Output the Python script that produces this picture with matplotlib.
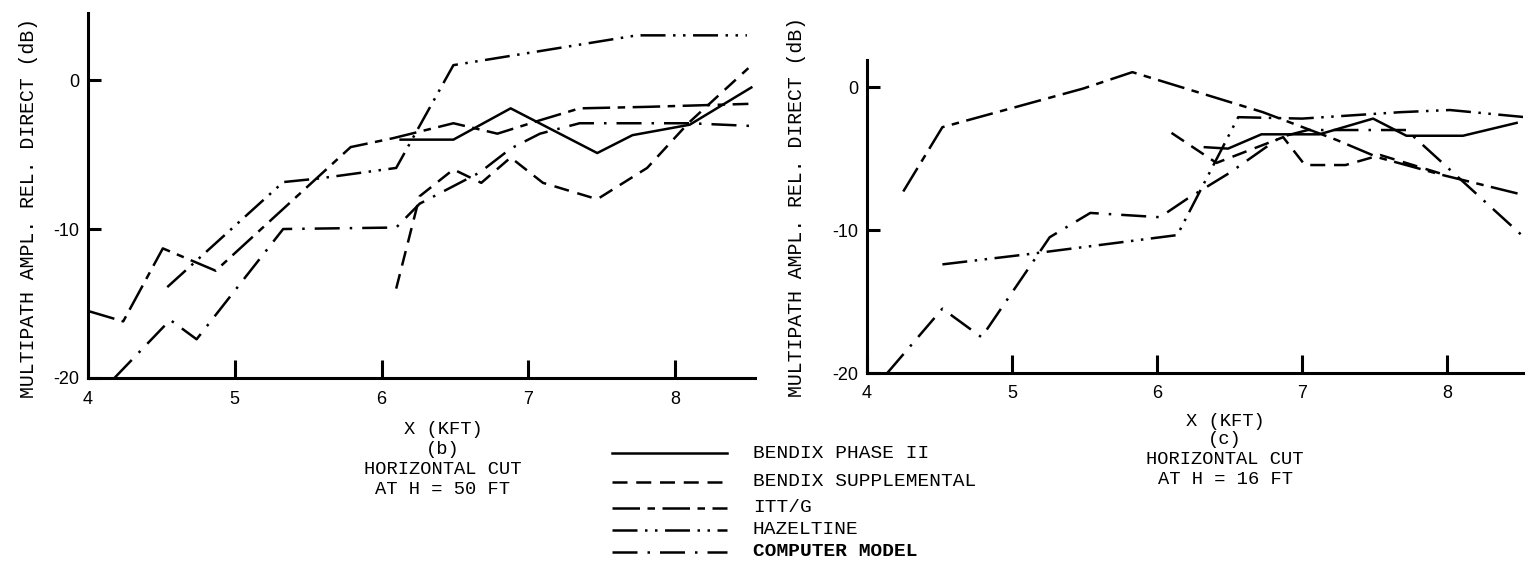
import matplotlib

matplotlib.use("Agg")
import matplotlib.pyplot as plt

W, H = 1537, 572

# ---- panel (b): horizontal cut at H = 50 ft ----
b_phase2_x = [6.13, 6.49, 6.88, 7.47, 7.71, 8.10, 8.52]
b_phase2_y = [-4.0, -4.0, -1.9, -4.9, -3.7, -3.0, -0.5]

b_supp_x = [6.10, 6.26, 6.49, 6.68, 6.88, 7.10, 7.47, 7.81, 8.09, 8.50]
b_supp_y = [-14.0, -7.8, -6.0, -6.9, -5.2, -6.9, -8.0, -5.9, -2.9, 0.8]

b_itt_x = [4.00, 4.24, 4.51, 4.87, 5.79, 6.08, 6.49, 6.79, 7.08, 7.35, 7.81, 8.50]
b_itt_y = [-15.5, -16.2, -11.3, -12.8, -4.5, -3.9, -2.9, -3.6, -2.7, -1.9, -1.8, -1.6]

b_haz_x = [4.54, 5.33, 5.58, 6.10, 6.49, 7.74, 8.49]
b_haz_y = [-13.9, -6.85, -6.6, -5.9, 1.0, 3.0, 3.0]

b_model_x = [4.18, 4.56, 4.74, 5.33, 6.10, 6.26, 6.67, 6.88, 7.08, 7.35, 8.10, 8.56]
b_model_y = [-20.0, -16.1, -17.4, -10.0, -9.9, -8.3, -6.2, -4.6, -3.6, -2.9, -2.9, -3.1]

# ---- panel (c): horizontal cut at H = 16 ft ----
c_phase2_x = [6.33, 6.49, 6.72, 7.12, 7.49, 7.72, 8.11, 8.48]
c_phase2_y = [-4.2, -4.3, -3.3, -3.3, -2.2, -3.4, -3.4, -2.5]

c_supp_x = [6.10, 6.41, 6.87, 7.02, 7.30, 7.54, 7.99]
c_supp_y = [-3.2, -5.3, -3.5, -5.45, -5.45, -4.75, -6.15]

c_itt_x = [4.25, 4.52, 5.49, 5.83, 6.73, 7.24, 7.52, 7.97, 8.55]
c_itt_y = [-7.3, -2.8, -0.1, 1.05, -1.75, -3.7, -4.9, -6.15, -7.6]

c_haz_x = [4.52, 5.10, 6.14, 6.56, 7.00, 7.68, 8.02, 8.54]
c_haz_y = [-12.4, -11.7, -10.35, -2.1, -2.2, -1.75, -1.6, -2.1]

c_model_x = [4.14, 4.52, 4.79, 5.26, 5.54, 6.02, 6.21, 6.50, 6.85, 7.04, 7.72, 8.52]
c_model_y = [-20.0, -15.5, -17.5, -10.5, -8.8, -9.1, -7.8, -6.0, -3.5, -3.0, -3.0, -10.4]

series_names = [
    "BENDIX PHASE II",
    "BENDIX SUPPLEMENTAL",
    "ITT/G",
    "HAZELTINE",
    "COMPUTER MODEL",
]
x_ticks = [4, 5, 6, 7, 8]
y_ticks = [-20, -10, 0]

LW = 1.8
STYLES = [
    dict(linestyle="-"),
    dict(dashes=(6.0, 3.5)),
    dict(dashes=(11.0, 3.0, 3.0, 3.0)),
    dict(dashes=(10.0, 3.0, 1.0, 3.0, 1.0, 3.0)),
    dict(dashes=(10.0, 4.0, 1.0, 4.0)),
]

MONO = ["Liberation Mono", "DejaVu Sans Mono"]
SANS = ["Liberation Sans", "DejaVu Sans"]


def fx(x):
    return x / W


def fy(y):
    return 1 - y / H


def style_axes(ax, xlim, ylim):
    ax.set_xlim(*xlim)
    ax.set_ylim(*ylim)
    for side in ("top", "right"):
        ax.spines[side].set_visible(False)
    for side in ("left", "bottom"):
        ax.spines[side].set_linewidth(2.2)
    ax.set_xticks(x_ticks)
    ax.set_yticks(y_ticks)
    ax.set_yticklabels([str(v) for v in y_ticks])
    ax.tick_params(axis="x", direction="in", length=13, width=2.2, pad=9)
    ax.tick_params(axis="y", direction="in", length=9, width=2.2, pad=6)
    for lab in ax.get_xticklabels() + ax.get_yticklabels():
        lab.set_fontfamily(SANS)
        lab.set_fontsize(13)


def draw_panel(ax, data):
    for (xs, ys), st in zip(data, STYLES):
        ax.plot(xs, ys, color="black", linewidth=LW, **st)


fig = plt.figure(figsize=(W / 100, H / 100), dpi=100)

ax_b = fig.add_axes([fx(88), fy(378), fx(755 - 88), (378 - 13) / H])
ax_c = fig.add_axes([fx(867), fy(373), fx(1523 - 867), (373 - 60) / H])

draw_panel(ax_b, [
    (b_phase2_x, b_phase2_y),
    (b_supp_x, b_supp_y),
    (b_itt_x, b_itt_y),
    (b_haz_x, b_haz_y),
    (b_model_x, b_model_y),
])
draw_panel(ax_c, [
    (c_phase2_x, c_phase2_y),
    (c_supp_x, c_supp_y),
    (c_itt_x, c_itt_y),
    (c_haz_x, c_haz_y),
    (c_model_x, c_model_y),
])

style_axes(ax_b, (4, 8.545), (-20, 4.5))
style_axes(ax_c, (4, 8.524), (-20, 1.9))

ylabel = "MULTIPATH AMPL. REL. DIRECT (dB)"
fig.text(fx(29), fy(208), ylabel, rotation=90, ha="center", va="center",
         family=MONO, fontsize=14.3)
fig.text(fx(796), fy(207), ylabel, rotation=90, ha="center", va="center",
         family=MONO, fontsize=14.3)

# captions under each panel
for cx, rows in [
    (443, [(429, "X (KFT)"), (449, "(b)"), (470, "HORIZONTAL CUT"), (490, "AT H = 50 FT")]),
    (1225, [(421, "X (KFT)"), (440, "(c)"), (460, "HORIZONTAL CUT"), (479, "AT H = 16 FT")]),
]:
    for ry, txt in rows:
        fig.text(fx(cx), fy(ry), txt, ha="center", va="center",
                 family=MONO, fontsize=13.5)

# legend drawn as sample strokes with labels
leg_rows = [453, 482, 508, 530, 552]
for ry, name, st in zip(leg_rows, series_names, STYLES):
    fig.add_artist(plt.Line2D([fx(612), fx(727)], [fy(ry), fy(ry)],
                              transform=fig.transFigure, color="black",
                              linewidth=LW, **st))
    fig.text(fx(753), fy(ry), name, ha="left", va="center", family=MONO,
             fontsize=14,
             fontweight="bold" if name == "COMPUTER MODEL" else "normal")

fig.savefig("out.png", dpi=100)
